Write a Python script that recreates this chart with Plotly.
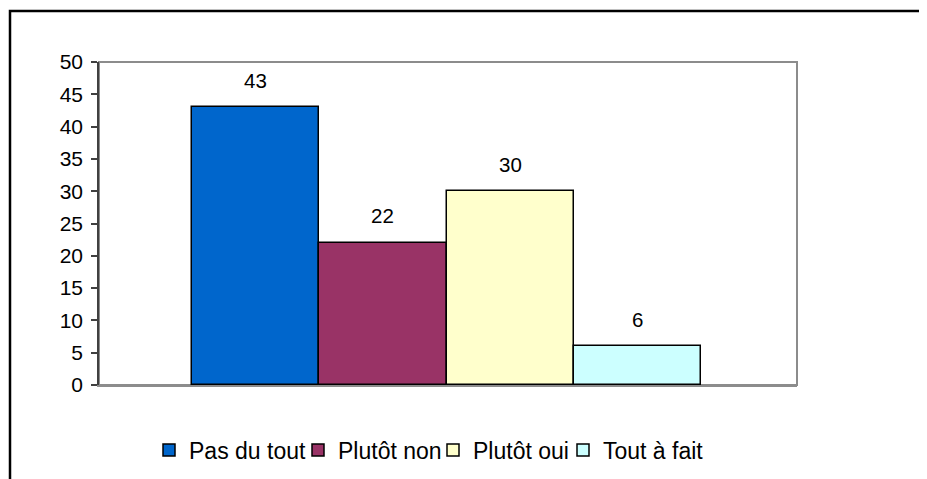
import plotly.graph_objects as go

# ---- data ----
series_names = ["Pas du tout", "Plutôt non", "Plutôt oui", "Tout à fait"]
values = [43, 22, 30, 6]
colors = ["#0066CC", "#993366", "#FFFFCC", "#CCFFFF"]
y_ticks = [0, 5, 10, 15, 20, 25, 30, 35, 40, 45, 50]
legend_widths = [104, 90, 85, 115]

FONT = "Liberation Sans, Arial, sans-serif"

# page has an 8px body margin: the figure starts at (8, 8)
OFF = 8
PL, PR, PT, PB = 99, 797, 62, 385          # plot area in page pixels
W, H = 927 - OFF, 479 - OFF
PW, PH = PR - PL, PB - PT

fig = go.Figure()
for name, val, col, lw in zip(series_names, values, colors, legend_widths):
    fig.add_trace(go.Bar(
        x=[name], y=[val], name=name,
        marker=dict(color=col, line=dict(color="#000000", width=1.5)),
        width=1.0,
        legendwidth=lw,
        hoverinfo="skip",
    ))
    fig.add_annotation(
        x=name, y=val, text=str(val), showarrow=False,
        xref="x", yref="y", yanchor="middle", yshift=27,
        font=dict(family=FONT, size=20.5, color="#000000"),
    )

# plot area border (gray)
fig.add_shape(type="rect", xref="paper", yref="paper", x0=0, x1=1, y0=0, y1=1,
              line=dict(color="#8C8C8C", width=2), layer="below")
# outer chart border (black, extends beyond visible window)
fig.add_shape(type="rect", xref="paper", yref="paper",
              x0=(10 - PL) / PW, x1=2.0, y0=-1.0, y1=(PB - 11) / PH,
              line=dict(color="#000000", width=2.5), layer="below")

fig.update_layout(
    width=W, height=H,
    margin=dict(l=PL - OFF, r=W - (PR - OFF), t=PT - OFF, b=H - (PB - OFF), autoexpand=False),
    paper_bgcolor="#FFFFFF", plot_bgcolor="#FFFFFF",
    barmode="overlay", bargap=0,
    font=dict(family=FONT, color="#000000"),
    showlegend=True,
    legend=dict(
        orientation="h", x=(149 - PL) / PW, xanchor="left",
        y=(PB - 450) / PH, yanchor="middle",
        font=dict(family=FONT, size=23, color="#000000"),
        bgcolor="rgba(0,0,0,0)", borderwidth=0,
        traceorder="normal",
    ),
    xaxis=dict(
        type="category", range=[-1.231, 4.254],
        showticklabels=False, ticks="", showgrid=False, zeroline=False,
        showline=True, linecolor="#8C8C8C", linewidth=2,
        fixedrange=True,
    ),
    yaxis=dict(
        range=[0, 50], tickvals=y_ticks, ticktext=[str(t) for t in y_ticks],
        ticks="outside", ticklen=6, tickcolor="#404040", tickwidth=1.5,
        showline=True, linecolor="#404040", linewidth=1.5,
        showgrid=False, zeroline=False,
        tickfont=dict(family=FONT, size=21, color="#000000"),
        ticklabelstandoff=4,
        fixedrange=True,
    ),
)

fig.write_html("out.html")
